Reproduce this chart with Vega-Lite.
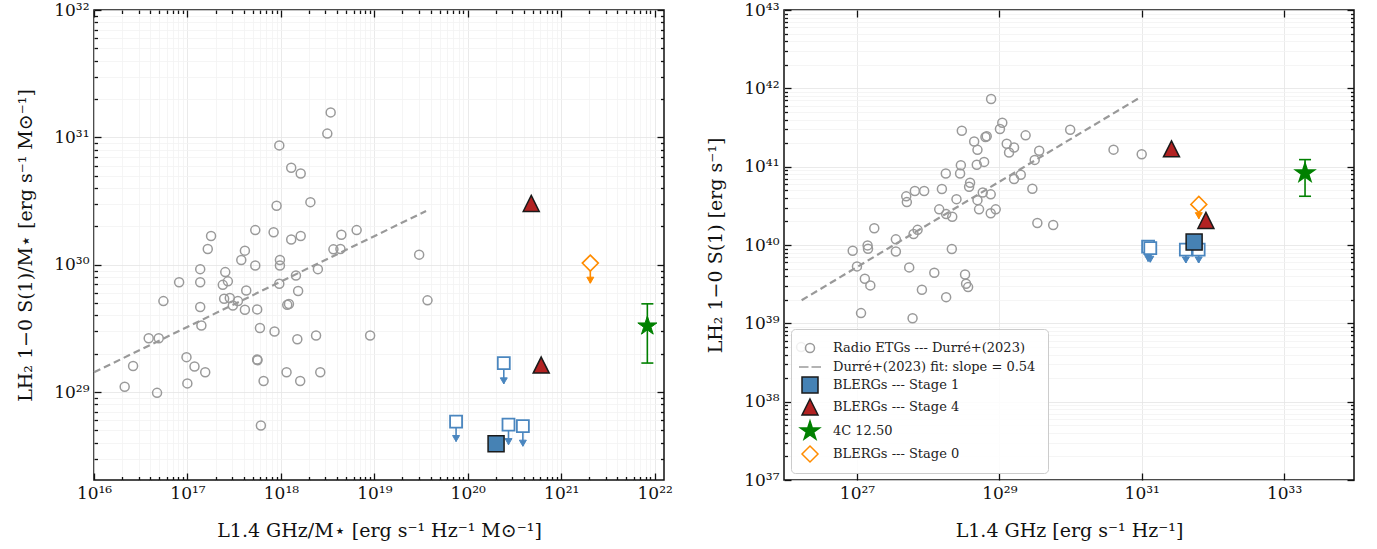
{
  "$schema": "https://vega.github.io/schema/vega-lite/v6.json",
  "padding": {"left": 15, "top": 0, "right": 5, "bottom": 5},
  "background": "white",
  "config": {
    "view": {"stroke": "#111111", "strokeWidth": 1.5},
    "axis": {
      "labelFont": "DejaVu Serif", "labelFontSize": 17, "labelColor": "#111111",
      "titleFont": "DejaVu Serif", "titleFontSize": 19, "titleFontWeight": "normal", "titleColor": "#111111",
      "tickColor": "#111111", "tickWidth": 1.3, "domain": false,
      "labelOverlap": false, "labelFlush": false, "labelBound": false, "gridWidth": 0.8
    },
    "legend": {
      "orient": "bottom-left", "offset": 7, "padding": 8, "strokeColor": "#cccccc", "cornerRadius": 4,
      "fillColor": "rgba(255,255,255,0.85)", "labelFont": "DejaVu Serif", "labelFontSize": 13, "labelColor": "#222222",
      "symbolSize": 400, "symbolStrokeWidth": 1.5, "rowPadding": 0, "labelOffset": 12, "labelLimit": 400
    }
  },
  "datasets": {
    "etg_m": [
      {"x":3.41e18,"y":1.57e31},{"x":3.14e18,"y":1.07e31},{"x":9.62e17,"y":8.65e30},{"x":1.29e18,"y":5.77e30},
      {"x":1.63e18,"y":5.21e30},{"x":2.07e18,"y":3.10e30},{"x":9.0e17,"y":2.90e30},{"x":1.79e17,"y":1.68e30},
      {"x":5.32e17,"y":1.87e30},{"x":8.36e17,"y":1.80e30},{"x":1.29e18,"y":1.58e30},{"x":1.63e18,"y":1.68e30},
      {"x":6.47e18,"y":1.87e30},{"x":4.44e18,"y":1.72e30},{"x":1.65e17,"y":1.33e30},{"x":4.12e17,"y":1.29e30},
      {"x":3.65e18,"y":1.32e30},{"x":4.34e18,"y":1.33e30},{"x":3.77e17,"y":1.09e30},{"x":5.32e17,"y":9.86e29},
      {"x":9.77e17,"y":1.09e30},{"x":9.77e17,"y":9.86e29},{"x":3.02e19,"y":1.20e30},{"x":1.37e17,"y":9.23e29},
      {"x":2.49e18,"y":9.23e29},{"x":2.54e17,"y":8.75e29},{"x":1.45e18,"y":8.24e29},{"x":8.15e16,"y":7.29e29},
      {"x":1.37e17,"y":7.29e29},{"x":2.39e17,"y":6.95e29},{"x":2.71e17,"y":7.40e29},{"x":4.26e17,"y":6.28e29},
      {"x":9.62e17,"y":7.08e29},{"x":1.53e18,"y":6.21e29},{"x":5.53e16,"y":5.18e29},{"x":2.47e17,"y":5.40e29},
      {"x":2.84e17,"y":5.47e29},{"x":3.47e17,"y":5.18e29},{"x":3.06e17,"y":4.79e29},{"x":1.37e17,"y":4.65e29},
      {"x":4.12e17,"y":4.43e29},{"x":5.58e17,"y":4.46e29},{"x":1.17e18,"y":4.84e29},{"x":1.22e18,"y":4.92e29},
      {"x":3.71e19,"y":5.25e29},{"x":5.97e17,"y":3.19e29},{"x":8.55e17,"y":2.99e29},{"x":1.41e17,"y":3.33e29},
      {"x":3.85e16,"y":2.65e29},{"x":4.93e16,"y":2.65e29},{"x":2.38e18,"y":2.78e29},{"x":1.50e18,"y":2.60e29},
      {"x":9.02e18,"y":2.78e29},{"x":9.77e16,"y":1.88e29},{"x":5.58e17,"y":1.80e29},{"x":5.62e17,"y":1.78e29},
      {"x":2.62e16,"y":1.60e29},{"x":1.19e17,"y":1.59e29},{"x":1.55e17,"y":1.43e29},{"x":1.15e18,"y":1.43e29},
      {"x":2.64e18,"y":1.43e29},{"x":6.53e17,"y":1.22e29},{"x":1.61e18,"y":1.22e29},{"x":2.13e16,"y":1.10e29},
      {"x":9.98e16,"y":1.17e29},{"x":4.73e16,"y":9.86e28},{"x":6.11e17,"y":5.47e28}
    ],
    "fit_m": [{"x":1e16,"y":1.43e29},{"x":3.58e19,"y":2.64e30}],
    "lim_m": [
      {"x":7.50e19,"y":5.87e28,"ylo":4.09e28},{"x":2.43e20,"y":1.69e29,"ylo":1.16e29},
      {"x":2.73e20,"y":5.56e28,"ylo":3.87e28},{"x":3.89e20,"y":5.40e28,"ylo":3.76e28}
    ],
    "s0_m": [{"x":2.05e21,"y":1.03e30,"ylo":7.16e29}],
    "star_m": [{"x":8.36e21,"y":3.30e29,"lo":1.69e29,"hi":4.93e29}],
    "s4_m": [{"x":4.78e20,"y":3.03e30},{"x":6.11e20,"y":1.63e29}],
    "s1_m": [{"x":2.01e20,"y":3.92e28}],
    "fit_r": [{"x":1.67e26,"y":1.97e39},{"x":9.20e30,"y":7.53e41}],
    "lim_r": [
      {"x":1.23e31,"y":9.55e39,"ylo":6.17e39},{"x":1.32e31,"y":9.12e39,"ylo":6.03e39},
      {"x":4.17e31,"y":8.71e39,"ylo":5.89e39},{"x":6.31e31,"y":8.71e39,"ylo":5.89e39}
    ],
    "s0_r": [{"x":6.34e31,"y":3.30e40,"ylo":2.17e40}],
    "star_r": [{"x":1.97e33,"y":8.30e40,"lo":4.19e40,"hi":1.23e41}],
    "main_r": [
      {"x":7.66e28,"y":7.29e41,"series":"Radio ETGs --- Durré+(2023)"},
      {"x":1.10e29,"y":3.64e41,"series":"Radio ETGs --- Durré+(2023)"},
      {"x":1.02e29,"y":3.02e41,"series":"Radio ETGs --- Durré+(2023)"},
      {"x":2.97e28,"y":2.88e41,"series":"Radio ETGs --- Durré+(2023)"},
      {"x":2.34e29,"y":2.51e41,"series":"Radio ETGs --- Durré+(2023)"},
      {"x":4.43e28,"y":2.10e41,"series":"Radio ETGs --- Durré+(2023)"},
      {"x":6.38e28,"y":2.39e41,"series":"Radio ETGs --- Durré+(2023)"},
      {"x":6.65e28,"y":2.44e41,"series":"Radio ETGs --- Durré+(2023)"},
      {"x":1.27e29,"y":1.96e41,"series":"Radio ETGs --- Durré+(2023)"},
      {"x":1.61e29,"y":1.76e41,"series":"Radio ETGs --- Durré+(2023)"},
      {"x":1.37e29,"y":1.52e41,"series":"Radio ETGs --- Durré+(2023)"},
      {"x":4.93e28,"y":1.64e41,"series":"Radio ETGs --- Durré+(2023)"},
      {"x":3.63e29,"y":1.60e41,"series":"Radio ETGs --- Durré+(2023)"},
      {"x":3.14e29,"y":1.22e41,"series":"Radio ETGs --- Durré+(2023)"},
      {"x":6.11e28,"y":1.15e41,"series":"Radio ETGs --- Durré+(2023)"},
      {"x":4.82e28,"y":1.06e41,"series":"Radio ETGs --- Durré+(2023)"},
      {"x":2.88e28,"y":1.04e41,"series":"Radio ETGs --- Durré+(2023)"},
      {"x":2.81e28,"y":8.20e40,"series":"Radio ETGs --- Durré+(2023)"},
      {"x":1.77e28,"y":8.20e40,"series":"Radio ETGs --- Durré+(2023)"},
      {"x":2.00e29,"y":7.89e40,"series":"Radio ETGs --- Durré+(2023)"},
      {"x":1.61e29,"y":6.95e40,"series":"Radio ETGs --- Durré+(2023)"},
      {"x":3.88e28,"y":6.24e40,"series":"Radio ETGs --- Durré+(2023)"},
      {"x":3.76e28,"y":5.53e40,"series":"Radio ETGs --- Durré+(2023)"},
      {"x":1.56e28,"y":5.18e40,"series":"Radio ETGs --- Durré+(2023)"},
      {"x":6.50e27,"y":4.88e40,"series":"Radio ETGs --- Durré+(2023)"},
      {"x":8.79e27,"y":4.88e40,"series":"Radio ETGs --- Durré+(2023)"},
      {"x":2.91e29,"y":5.22e40,"series":"Radio ETGs --- Durré+(2023)"},
      {"x":4.92e27,"y":4.18e40,"series":"Radio ETGs --- Durré+(2023)"},
      {"x":5.02e27,"y":3.53e40,"series":"Radio ETGs --- Durré+(2023)"},
      {"x":5.85e28,"y":4.69e40,"series":"Radio ETGs --- Durré+(2023)"},
      {"x":7.57e28,"y":4.43e40,"series":"Radio ETGs --- Durré+(2023)"},
      {"x":2.50e28,"y":3.85e40,"series":"Radio ETGs --- Durré+(2023)"},
      {"x":4.93e28,"y":3.74e40,"series":"Radio ETGs --- Durré+(2023)"},
      {"x":1.43e28,"y":2.85e40,"series":"Radio ETGs --- Durré+(2023)"},
      {"x":1.79e28,"y":2.48e40,"series":"Radio ETGs --- Durré+(2023)"},
      {"x":2.18e28,"y":2.29e40,"series":"Radio ETGs --- Durré+(2023)"},
      {"x":5.19e28,"y":2.85e40,"series":"Radio ETGs --- Durré+(2023)"},
      {"x":7.57e28,"y":2.54e40,"series":"Radio ETGs --- Durré+(2023)"},
      {"x":8.89e28,"y":2.85e40,"series":"Radio ETGs --- Durré+(2023)"},
      {"x":3.42e29,"y":1.91e40,"series":"Radio ETGs --- Durré+(2023)"},
      {"x":5.71e29,"y":1.80e40,"series":"Radio ETGs --- Durré+(2023)"},
      {"x":1.75e27,"y":1.64e40,"series":"Radio ETGs --- Durré+(2023)"},
      {"x":7.10e27,"y":1.56e40,"series":"Radio ETGs --- Durré+(2023)"},
      {"x":6.24e27,"y":1.38e40,"series":"Radio ETGs --- Durré+(2023)"},
      {"x":3.52e27,"y":1.18e40,"series":"Radio ETGs --- Durré+(2023)"},
      {"x":1.41e27,"y":9.89e39,"series":"Radio ETGs --- Durré+(2023)"},
      {"x":1.43e27,"y":8.95e39,"series":"Radio ETGs --- Durré+(2023)"},
      {"x":8.71e26,"y":8.43e39,"series":"Radio ETGs --- Durré+(2023)"},
      {"x":3.52e27,"y":8.28e39,"series":"Radio ETGs --- Durré+(2023)"},
      {"x":2.15e28,"y":8.87e39,"series":"Radio ETGs --- Durré+(2023)"},
      {"x":1.00e27,"y":5.33e39,"series":"Radio ETGs --- Durré+(2023)"},
      {"x":5.42e27,"y":5.18e39,"series":"Radio ETGs --- Durré+(2023)"},
      {"x":1.22e28,"y":4.42e39,"series":"Radio ETGs --- Durré+(2023)"},
      {"x":3.30e28,"y":4.21e39,"series":"Radio ETGs --- Durré+(2023)"},
      {"x":1.29e27,"y":3.70e39,"series":"Radio ETGs --- Durré+(2023)"},
      {"x":1.54e27,"y":3.05e39,"series":"Radio ETGs --- Durré+(2023)"},
      {"x":8.17e27,"y":2.68e39,"series":"Radio ETGs --- Durré+(2023)"},
      {"x":3.41e28,"y":3.20e39,"series":"Radio ETGs --- Durré+(2023)"},
      {"x":3.64e28,"y":2.90e39,"series":"Radio ETGs --- Durré+(2023)"},
      {"x":1.79e28,"y":2.16e39,"series":"Radio ETGs --- Durré+(2023)"},
      {"x":1.14e27,"y":1.35e39,"series":"Radio ETGs --- Durré+(2023)"},
      {"x":6.04e27,"y":1.16e39,"series":"Radio ETGs --- Durré+(2023)"},
      {"x":1.64e26,"y":4.97e38,"series":"Radio ETGs --- Durré+(2023)"},
      {"x":9.89e29,"y":2.96e41,"series":"Radio ETGs --- Durré+(2023)"},
      {"x":4.02e30,"y":1.65e41,"series":"Radio ETGs --- Durré+(2023)"},
      {"x":1.00e31,"y":1.44e41,"series":"Radio ETGs --- Durré+(2023)"},
      {"x":2.62e31,"y":1.69e41,"series":"BLERGs --- Stage 4"},
      {"x":7.98e31,"y":2.06e40,"series":"BLERGs --- Stage 4"},
      {"x":6.34e31,"y":3.30e40,"series":"BLERGs --- Stage 0"},
      {"x":1.97e33,"y":8.30e40,"series":"4C 12.50"},
      {"x":5.45e31,"y":1.09e40,"series":"BLERGs --- Stage 1"}
    ]
  },
  "spacing": 31,
  "resolve": {
    "scale": {"shape": "independent", "fill": "independent", "stroke": "independent"},
    "legend": {"shape": "independent", "fill": "independent", "stroke": "independent"}
  },
  "hconcat": [
    {
      "width": 570, "height": 470,
      "resolve": {"axis": {"x": "independent", "y": "independent"}},
      "layer": [
        {
          "data": {"name": "etg_m"},
          "mark": {"type": "point", "shape": "M0.45,0A0.45,0.45,0,1,1,-0.45,0A0.45,0.45,0,1,1,0.45,0Z", "size": 400, "stroke": "#9a9a9a", "strokeWidth": 1.5, "fill": "transparent", "opacity": 1},
          "encoding": {
            "x": {"field": "x", "type": "quantitative", "scale": {"type": "log", "domain": [1e16, 1.26e22], "nice": false},
              "axis": {"orient": "bottom", "title": "L1.4 GHz/M⋆  [erg s⁻¹ Hz⁻¹ M⊙⁻¹]", "titlePadding": 20, "labelPadding": 5, "ticks": false,
                "values": [1e16,2e16,3e16,4e16,5e16,6e16,7e16,8e16,9e16,1e17,2e17,3e17,4e17,5e17,6e17,7e17,8e17,9e17,1e18,2e18,3e18,4e18,5e18,6e18,7e18,8e18,9e18,1e19,2e19,3e19,4e19,5e19,6e19,7e19,8e19,9e19,1e20,2e20,3e20,4e20,5e20,6e20,7e20,8e20,9e20,1e21,2e21,3e21,4e21,5e21,6e21,7e21,8e21,9e21,1e22],
                "labelExpr": "abs(log(datum.value)/LN10 - round(log(datum.value)/LN10)) < 0.01 ? '10' + ['⁰','¹','²','³','⁴','⁵','⁶','⁷','⁸','⁹'][floor(round(log(datum.value)/LN10)/10)] + ['⁰','¹','²','³','⁴','⁵','⁶','⁷','⁸','⁹'][round(log(datum.value)/LN10) % 10] : ''",
                "grid": true,
                "gridColor": {"condition": {"test": "abs(log(datum.value)/LN10 - round(log(datum.value)/LN10)) < 0.01", "value": "#e4e4e4"}, "value": "#f3f3f3"}}},
            "y": {"field": "y", "type": "quantitative", "scale": {"type": "log", "domain": [2.04e28, 1e32], "nice": false},
              "axis": {"orient": "left", "title": "LH₂ 1−0 S(1)/M⋆  [erg s⁻¹ M⊙⁻¹]", "titlePadding": 18, "labelPadding": 5, "ticks": false,
                "values": [3e28,4e28,5e28,6e28,7e28,8e28,9e28,1e29,2e29,3e29,4e29,5e29,6e29,7e29,8e29,9e29,1e30,2e30,3e30,4e30,5e30,6e30,7e30,8e30,9e30,1e31,2e31,3e31,4e31,5e31,6e31,7e31,8e31,9e31,1e32],
                "labelExpr": "abs(log(datum.value)/LN10 - round(log(datum.value)/LN10)) < 0.01 ? '10' + ['⁰','¹','²','³','⁴','⁵','⁶','⁷','⁸','⁹'][floor(round(log(datum.value)/LN10)/10)] + ['⁰','¹','²','³','⁴','⁵','⁶','⁷','⁸','⁹'][round(log(datum.value)/LN10) % 10] : ''",
                "grid": true,
                "gridColor": {"condition": {"test": "abs(log(datum.value)/LN10 - round(log(datum.value)/LN10)) < 0.01", "value": "#e4e4e4"}, "value": "#f3f3f3"}}}
          }
        },
        {
          "data": {"name": "fit_m"},
          "mark": {"type": "line", "stroke": "#999999", "strokeWidth": 2.2, "strokeDash": [7, 4]},
          "encoding": {
            "x": {"field": "x", "type": "quantitative", "scale": {"type": "log", "domain": [1e16, 1.26e22], "nice": false},
              "axis": {"orient": "top", "offset": -470, "title": null, "labels": false, "grid": false,
                "values": [1e16,2e16,3e16,4e16,5e16,6e16,7e16,8e16,9e16,1e17,2e17,3e17,4e17,5e17,6e17,7e17,8e17,9e17,1e18,2e18,3e18,4e18,5e18,6e18,7e18,8e18,9e18,1e19,2e19,3e19,4e19,5e19,6e19,7e19,8e19,9e19,1e20,2e20,3e20,4e20,5e20,6e20,7e20,8e20,9e20,1e21,2e21,3e21,4e21,5e21,6e21,7e21,8e21,9e21,1e22],
                "tickSize": {"condition": {"test": "abs(log(datum.value)/LN10 - round(log(datum.value)/LN10)) < 0.01", "value": 7}, "value": 3.5}}},
            "y": {"field": "y", "type": "quantitative", "scale": {"type": "log", "domain": [2.04e28, 1e32], "nice": false},
              "axis": {"orient": "right", "offset": -570, "title": null, "labels": false, "grid": false,
                "values": [3e28,4e28,5e28,6e28,7e28,8e28,9e28,1e29,2e29,3e29,4e29,5e29,6e29,7e29,8e29,9e29,1e30,2e30,3e30,4e30,5e30,6e30,7e30,8e30,9e30,1e31,2e31,3e31,4e31,5e31,6e31,7e31,8e31,9e31,1e32],
                "tickSize": {"condition": {"test": "abs(log(datum.value)/LN10 - round(log(datum.value)/LN10)) < 0.01", "value": 7}, "value": 3.5}}}
          }
        },
        {
          "data": {"name": "lim_m"},
          "mark": {"type": "rule", "stroke": "#4a86bf", "strokeWidth": 1.6},
          "encoding": {
            "x": {"field": "x", "type": "quantitative", "scale": {"type": "log", "domain": [1e16, 1.26e22], "nice": false},
              "axis": {"orient": "bottom", "offset": -470, "title": null, "labels": false, "grid": false,
                "values": [1e16,2e16,3e16,4e16,5e16,6e16,7e16,8e16,9e16,1e17,2e17,3e17,4e17,5e17,6e17,7e17,8e17,9e17,1e18,2e18,3e18,4e18,5e18,6e18,7e18,8e18,9e18,1e19,2e19,3e19,4e19,5e19,6e19,7e19,8e19,9e19,1e20,2e20,3e20,4e20,5e20,6e20,7e20,8e20,9e20,1e21,2e21,3e21,4e21,5e21,6e21,7e21,8e21,9e21,1e22],
                "tickSize": {"condition": {"test": "abs(log(datum.value)/LN10 - round(log(datum.value)/LN10)) < 0.01", "value": 7}, "value": 3.5}}},
            "y": {"field": "y", "type": "quantitative", "scale": {"type": "log", "domain": [2.04e28, 1e32], "nice": false},
              "axis": {"orient": "left", "offset": -570, "title": null, "labels": false, "grid": false,
                "values": [3e28,4e28,5e28,6e28,7e28,8e28,9e28,1e29,2e29,3e29,4e29,5e29,6e29,7e29,8e29,9e29,1e30,2e30,3e30,4e30,5e30,6e30,7e30,8e30,9e30,1e31,2e31,3e31,4e31,5e31,6e31,7e31,8e31,9e31,1e32],
                "tickSize": {"condition": {"test": "abs(log(datum.value)/LN10 - round(log(datum.value)/LN10)) < 0.01", "value": 7}, "value": 3.5}}},
            "y2": {"field": "ylo"}
          }
        },
        {
          "data": {"name": "lim_m"},
          "mark": {"type": "point", "shape": "M-0.35,-0.6L0.35,-0.6L0,0Z", "size": 400, "fill": "#4a86bf", "stroke": "#4a86bf", "strokeWidth": 1, "opacity": 1},
          "encoding": {
            "x": {"field": "x", "type": "quantitative", "scale": {"type": "log", "domain": [1e16, 1.26e22], "nice": false}, "axis": null},
            "y": {"field": "ylo", "type": "quantitative", "scale": {"type": "log", "domain": [2.04e28, 1e32], "nice": false}, "axis": null}
          }
        },
        {
          "data": {"name": "lim_m"},
          "mark": {"type": "point", "shape": "M-0.6,-0.6H0.6V0.6H-0.6Z", "size": 400, "fill": "white", "stroke": "#4a86bf", "strokeWidth": 1.8, "opacity": 1},
          "encoding": {
            "x": {"field": "x", "type": "quantitative", "scale": {"type": "log", "domain": [1e16, 1.26e22], "nice": false}, "axis": null},
            "y": {"field": "y", "type": "quantitative", "scale": {"type": "log", "domain": [2.04e28, 1e32], "nice": false}, "axis": null}
          }
        },
        {
          "data": {"name": "s0_m"},
          "mark": {"type": "rule", "stroke": "#ff8c00", "strokeWidth": 1.6},
          "encoding": {
            "x": {"field": "x", "type": "quantitative", "scale": {"type": "log", "domain": [1e16, 1.26e22], "nice": false}, "axis": null},
            "y": {"field": "y", "type": "quantitative", "scale": {"type": "log", "domain": [2.04e28, 1e32], "nice": false}, "axis": null},
            "y2": {"field": "ylo"}
          }
        },
        {
          "data": {"name": "s0_m"},
          "mark": {"type": "point", "shape": "M-0.35,-0.6L0.35,-0.6L0,0Z", "size": 400, "fill": "#ff8c00", "stroke": "#ff8c00", "strokeWidth": 1, "opacity": 1},
          "encoding": {
            "x": {"field": "x", "type": "quantitative", "scale": {"type": "log", "domain": [1e16, 1.26e22], "nice": false}, "axis": null},
            "y": {"field": "ylo", "type": "quantitative", "scale": {"type": "log", "domain": [2.04e28, 1e32], "nice": false}, "axis": null}
          }
        },
        {
          "data": {"name": "s0_m"},
          "mark": {"type": "point", "shape": "M0,-0.8L0.8,0L0,0.8L-0.8,0Z", "size": 400, "fill": "white", "stroke": "#ff8c00", "strokeWidth": 1.6, "opacity": 1},
          "encoding": {
            "x": {"field": "x", "type": "quantitative", "scale": {"type": "log", "domain": [1e16, 1.26e22], "nice": false}, "axis": null},
            "y": {"field": "y", "type": "quantitative", "scale": {"type": "log", "domain": [2.04e28, 1e32], "nice": false}, "axis": null}
          }
        },
        {
          "data": {"name": "star_m"},
          "mark": {"type": "rule", "stroke": "#008000", "strokeWidth": 1.6},
          "encoding": {
            "x": {"field": "x", "type": "quantitative", "scale": {"type": "log", "domain": [1e16, 1.26e22], "nice": false}, "axis": null},
            "y": {"field": "lo", "type": "quantitative", "scale": {"type": "log", "domain": [2.04e28, 1e32], "nice": false}, "axis": null},
            "y2": {"field": "hi"}
          }
        },
        {
          "data": {"name": "star_m"},
          "mark": {"type": "point", "shape": "M-0.6,0H0.6", "size": 400, "stroke": "#008000", "strokeWidth": 1.6, "opacity": 1},
          "encoding": {
            "x": {"field": "x", "type": "quantitative", "scale": {"type": "log", "domain": [1e16, 1.26e22], "nice": false}, "axis": null},
            "y": {"field": "lo", "type": "quantitative", "scale": {"type": "log", "domain": [2.04e28, 1e32], "nice": false}, "axis": null}
          }
        },
        {
          "data": {"name": "star_m"},
          "mark": {"type": "point", "shape": "M-0.6,0H0.6", "size": 400, "stroke": "#008000", "strokeWidth": 1.6, "opacity": 1},
          "encoding": {
            "x": {"field": "x", "type": "quantitative", "scale": {"type": "log", "domain": [1e16, 1.26e22], "nice": false}, "axis": null},
            "y": {"field": "hi", "type": "quantitative", "scale": {"type": "log", "domain": [2.04e28, 1e32], "nice": false}, "axis": null}
          }
        },
        {
          "data": {"name": "star_m"},
          "mark": {"type": "point", "shape": "M0,-1L0.225,-0.309L0.951,-0.309L0.363,0.118L0.588,0.809L0,0.382L-0.588,0.809L-0.363,0.118L-0.951,-0.309L-0.225,-0.309Z", "size": 400, "fill": "#008000", "stroke": "#008000", "strokeWidth": 1, "opacity": 1},
          "encoding": {
            "x": {"field": "x", "type": "quantitative", "scale": {"type": "log", "domain": [1e16, 1.26e22], "nice": false}, "axis": null},
            "y": {"field": "y", "type": "quantitative", "scale": {"type": "log", "domain": [2.04e28, 1e32], "nice": false}, "axis": null}
          }
        },
        {
          "data": {"name": "s4_m"},
          "mark": {"type": "point", "shape": "M0,-0.8L0.8,0.8L-0.8,0.8Z", "size": 400, "fill": "#b22222", "stroke": "#1a1a1a", "strokeWidth": 1.5, "opacity": 1},
          "encoding": {
            "x": {"field": "x", "type": "quantitative", "scale": {"type": "log", "domain": [1e16, 1.26e22], "nice": false}, "axis": null},
            "y": {"field": "y", "type": "quantitative", "scale": {"type": "log", "domain": [2.04e28, 1e32], "nice": false}, "axis": null}
          }
        },
        {
          "data": {"name": "s1_m"},
          "mark": {"type": "point", "shape": "M-0.8,-0.8H0.8V0.8H-0.8Z", "size": 400, "fill": "#4682b4", "stroke": "#1a1a1a", "strokeWidth": 1.5, "opacity": 1},
          "encoding": {
            "x": {"field": "x", "type": "quantitative", "scale": {"type": "log", "domain": [1e16, 1.26e22], "nice": false}, "axis": null},
            "y": {"field": "y", "type": "quantitative", "scale": {"type": "log", "domain": [2.04e28, 1e32], "nice": false}, "axis": null}
          }
        }
      ]
    },
    {
      "width": 570, "height": 470,
      "resolve": {"axis": {"x": "independent", "y": "independent"}},
      "layer": [
        {
          "data": {"name": "fit_r"},
          "mark": {"type": "line", "stroke": "#999999", "strokeWidth": 2.2, "strokeDash": [7, 4]},
          "encoding": {
            "x": {"field": "x", "type": "quantitative", "scale": {"type": "log", "domain": [9.44e25, 9.6e33], "nice": false},
              "axis": {"orient": "top", "offset": -470, "title": null, "labels": false, "grid": false, "values": [1e27, 1e29, 1e31, 1e33], "tickSize": 7}},
            "y": {"field": "y", "type": "quantitative", "scale": {"type": "log", "domain": [1e37, 1e43], "nice": false},
              "axis": {"orient": "right", "offset": -570, "title": null, "labels": false, "grid": false,
                "values": [1e37,2e37,3e37,4e37,5e37,6e37,7e37,8e37,9e37,1e38,2e38,3e38,4e38,5e38,6e38,7e38,8e38,9e38,1e39,2e39,3e39,4e39,5e39,6e39,7e39,8e39,9e39,1e40,2e40,3e40,4e40,5e40,6e40,7e40,8e40,9e40,1e41,2e41,3e41,4e41,5e41,6e41,7e41,8e41,9e41,1e42,2e42,3e42,4e42,5e42,6e42,7e42,8e42,9e42,1e43],
                "tickSize": {"condition": {"test": "abs(log(datum.value)/LN10 - round(log(datum.value)/LN10)) < 0.01", "value": 7}, "value": 3.5}}}
          }
        },
        {
          "data": {"name": "lim_r"},
          "mark": {"type": "rule", "stroke": "#4a86bf", "strokeWidth": 1.6},
          "encoding": {
            "x": {"field": "x", "type": "quantitative", "scale": {"type": "log", "domain": [9.44e25, 9.6e33], "nice": false},
              "axis": {"orient": "bottom", "offset": -470, "title": null, "labels": false, "grid": false, "values": [1e27, 1e29, 1e31, 1e33], "tickSize": 7}},
            "y": {"field": "y", "type": "quantitative", "scale": {"type": "log", "domain": [1e37, 1e43], "nice": false},
              "axis": {"orient": "left", "offset": -570, "title": null, "labels": false, "grid": false,
                "values": [1e37,2e37,3e37,4e37,5e37,6e37,7e37,8e37,9e37,1e38,2e38,3e38,4e38,5e38,6e38,7e38,8e38,9e38,1e39,2e39,3e39,4e39,5e39,6e39,7e39,8e39,9e39,1e40,2e40,3e40,4e40,5e40,6e40,7e40,8e40,9e40,1e41,2e41,3e41,4e41,5e41,6e41,7e41,8e41,9e41,1e42,2e42,3e42,4e42,5e42,6e42,7e42,8e42,9e42,1e43],
                "tickSize": {"condition": {"test": "abs(log(datum.value)/LN10 - round(log(datum.value)/LN10)) < 0.01", "value": 7}, "value": 3.5}}},
            "y2": {"field": "ylo"}
          }
        },
        {
          "data": {"name": "lim_r"},
          "mark": {"type": "point", "shape": "M-0.35,-0.6L0.35,-0.6L0,0Z", "size": 400, "fill": "#4a86bf", "stroke": "#4a86bf", "strokeWidth": 1, "opacity": 1},
          "encoding": {
            "x": {"field": "x", "type": "quantitative", "scale": {"type": "log", "domain": [9.44e25, 9.6e33], "nice": false}, "axis": null},
            "y": {"field": "ylo", "type": "quantitative", "scale": {"type": "log", "domain": [1e37, 1e43], "nice": false}, "axis": null}
          }
        },
        {
          "data": {"name": "lim_r"},
          "mark": {"type": "point", "shape": "M-0.6,-0.6H0.6V0.6H-0.6Z", "size": 400, "fill": "white", "stroke": "#4a86bf", "strokeWidth": 1.8, "opacity": 1},
          "encoding": {
            "x": {"field": "x", "type": "quantitative", "scale": {"type": "log", "domain": [9.44e25, 9.6e33], "nice": false}, "axis": null},
            "y": {"field": "y", "type": "quantitative", "scale": {"type": "log", "domain": [1e37, 1e43], "nice": false}, "axis": null}
          }
        },
        {
          "data": {"name": "s0_r"},
          "mark": {"type": "rule", "stroke": "#ff8c00", "strokeWidth": 1.6},
          "encoding": {
            "x": {"field": "x", "type": "quantitative", "scale": {"type": "log", "domain": [9.44e25, 9.6e33], "nice": false}, "axis": null},
            "y": {"field": "y", "type": "quantitative", "scale": {"type": "log", "domain": [1e37, 1e43], "nice": false}, "axis": null},
            "y2": {"field": "ylo"}
          }
        },
        {
          "data": {"name": "s0_r"},
          "mark": {"type": "point", "shape": "M-0.35,-0.6L0.35,-0.6L0,0Z", "size": 400, "fill": "#ff8c00", "stroke": "#ff8c00", "strokeWidth": 1, "opacity": 1},
          "encoding": {
            "x": {"field": "x", "type": "quantitative", "scale": {"type": "log", "domain": [9.44e25, 9.6e33], "nice": false}, "axis": null},
            "y": {"field": "ylo", "type": "quantitative", "scale": {"type": "log", "domain": [1e37, 1e43], "nice": false}, "axis": null}
          }
        },
        {
          "data": {"name": "star_r"},
          "mark": {"type": "rule", "stroke": "#008000", "strokeWidth": 1.6},
          "encoding": {
            "x": {"field": "x", "type": "quantitative", "scale": {"type": "log", "domain": [9.44e25, 9.6e33], "nice": false}, "axis": null},
            "y": {"field": "lo", "type": "quantitative", "scale": {"type": "log", "domain": [1e37, 1e43], "nice": false}, "axis": null},
            "y2": {"field": "hi"}
          }
        },
        {
          "data": {"name": "star_r"},
          "mark": {"type": "point", "shape": "M-0.6,0H0.6", "size": 400, "stroke": "#008000", "strokeWidth": 1.6, "opacity": 1},
          "encoding": {
            "x": {"field": "x", "type": "quantitative", "scale": {"type": "log", "domain": [9.44e25, 9.6e33], "nice": false}, "axis": null},
            "y": {"field": "lo", "type": "quantitative", "scale": {"type": "log", "domain": [1e37, 1e43], "nice": false}, "axis": null}
          }
        },
        {
          "data": {"name": "star_r"},
          "mark": {"type": "point", "shape": "M-0.6,0H0.6", "size": 400, "stroke": "#008000", "strokeWidth": 1.6, "opacity": 1},
          "encoding": {
            "x": {"field": "x", "type": "quantitative", "scale": {"type": "log", "domain": [9.44e25, 9.6e33], "nice": false}, "axis": null},
            "y": {"field": "hi", "type": "quantitative", "scale": {"type": "log", "domain": [1e37, 1e43], "nice": false}, "axis": null}
          }
        },
        {
          "data": {"name": "main_r"},
          "mark": {"type": "point", "size": 400, "strokeWidth": 1.5, "opacity": 1, "filled": true},
          "encoding": {
            "x": {"field": "x", "type": "quantitative", "scale": {"type": "log", "domain": [9.44e25, 9.6e33], "nice": false},
              "axis": {"orient": "bottom", "title": "L1.4 GHz  [erg s⁻¹ Hz⁻¹]", "titlePadding": 20, "labelPadding": 5, "ticks": false,
                "values": [1e27, 1e29, 1e31, 1e33],
                "labelExpr": "abs(log(datum.value)/LN10 - round(log(datum.value)/LN10)) < 0.01 ? '10' + ['⁰','¹','²','³','⁴','⁵','⁶','⁷','⁸','⁹'][floor(round(log(datum.value)/LN10)/10)] + ['⁰','¹','²','³','⁴','⁵','⁶','⁷','⁸','⁹'][round(log(datum.value)/LN10) % 10] : ''",
                "grid": true, "gridColor": "#e4e4e4"}},
            "y": {"field": "y", "type": "quantitative", "scale": {"type": "log", "domain": [1e37, 1e43], "nice": false},
              "axis": {"orient": "left", "title": "LH₂ 1−0 S(1)  [erg s⁻¹]", "titlePadding": 18, "labelPadding": 5, "ticks": false,
                "values": [1e37,2e37,3e37,4e37,5e37,6e37,7e37,8e37,9e37,1e38,2e38,3e38,4e38,5e38,6e38,7e38,8e38,9e38,1e39,2e39,3e39,4e39,5e39,6e39,7e39,8e39,9e39,1e40,2e40,3e40,4e40,5e40,6e40,7e40,8e40,9e40,1e41,2e41,3e41,4e41,5e41,6e41,7e41,8e41,9e41,1e42,2e42,3e42,4e42,5e42,6e42,7e42,8e42,9e42,1e43],
                "labelExpr": "abs(log(datum.value)/LN10 - round(log(datum.value)/LN10)) < 0.01 ? '10' + ['⁰','¹','²','³','⁴','⁵','⁶','⁷','⁸','⁹'][floor(round(log(datum.value)/LN10)/10)] + ['⁰','¹','²','³','⁴','⁵','⁶','⁷','⁸','⁹'][round(log(datum.value)/LN10) % 10] : ''",
                "grid": true,
                "gridColor": {"condition": {"test": "abs(log(datum.value)/LN10 - round(log(datum.value)/LN10)) < 0.01", "value": "#e4e4e4"}, "value": "#f3f3f3"}}},
            "shape": {"field": "series", "type": "nominal",
              "scale": {"domain": ["Radio ETGs --- Durré+(2023)", "Durré+(2023) fit: slope  = 0.54", "BLERGs --- Stage 1", "BLERGs --- Stage 4", "4C 12.50", "BLERGs --- Stage 0"],
                "range": ["M0.45,0A0.45,0.45,0,1,1,-0.45,0A0.45,0.45,0,1,1,0.45,0Z", "M-1.1,0H-0.15M0.15,0H1.1", "M-0.8,-0.8H0.8V0.8H-0.8Z", "M0,-0.8L0.8,0.8L-0.8,0.8Z", "M0,-1L0.225,-0.309L0.951,-0.309L0.363,0.118L0.588,0.809L0,0.382L-0.588,0.809L-0.363,0.118L-0.951,-0.309L-0.225,-0.309Z", "M0,-0.8L0.8,0L0,0.8L-0.8,0Z"]},
              "legend": {"title": null}},
            "fill": {"field": "series", "type": "nominal",
              "scale": {"domain": ["Radio ETGs --- Durré+(2023)", "Durré+(2023) fit: slope  = 0.54", "BLERGs --- Stage 1", "BLERGs --- Stage 4", "4C 12.50", "BLERGs --- Stage 0"],
                "range": ["transparent", "transparent", "#4682b4", "#b22222", "#008000", "white"]},
              "legend": {"title": null}},
            "stroke": {"field": "series", "type": "nominal",
              "scale": {"domain": ["Radio ETGs --- Durré+(2023)", "Durré+(2023) fit: slope  = 0.54", "BLERGs --- Stage 1", "BLERGs --- Stage 4", "4C 12.50", "BLERGs --- Stage 0"],
                "range": ["#9a9a9a", "#9a9a9a", "#1a1a1a", "#1a1a1a", "#008000", "#ff8c00"]},
              "legend": {"title": null}}
          }
        }
      ]
    }
  ]
}
